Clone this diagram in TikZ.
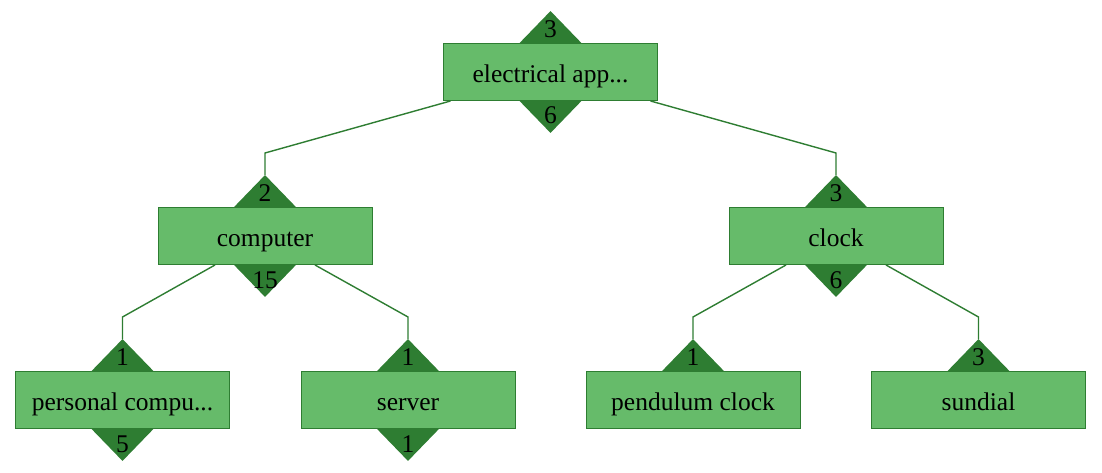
\documentclass[tikz,border=0pt]{standalone}
\usepackage{fontspec}
\setmainfont{Liberation Serif}
\usetikzlibrary{shapes.geometric,backgrounds}
\definecolor{boxfill}{HTML}{66BB6A}
\definecolor{boxline}{HTML}{2E7D32}
\definecolor{diafill}{HTML}{2E7D32}
\begin{document}
\begin{tikzpicture}[x=1pt,y=-1pt,
  box/.style={draw=boxline, fill=boxfill, line width=1pt, minimum width=214pt, minimum height=57pt, inner sep=0pt, text height=21pt, text depth=0pt, font=\fontsize{25.5}{30}\selectfont},
  num/.style={inner sep=0pt, anchor=base, font=\fontsize{25.5}{30}\selectfont},
  dia/.style={diamond, fill=diafill, minimum width=62pt, minimum height=64pt, inner sep=0pt},
  link/.style={draw=boxline, line width=1.4pt}]
\useasboundingbox (0,0) rectangle (1102,473);
% boxes
\node[box] (elec) at (550.5,72) {electrical app...};
\node[box] (comp) at (265,236) {computer};
\node[box] (clock) at (836,236) {clock};
\node[box] (pc) at (122.5,400) {personal compu...};
\node[box] (serv) at (408,400) {server};
\node[box] (pend) at (693,400) {pendulum clock};
\node[box] (sun) at (978.5,400) {sundial};
\begin{pgfonlayer}{background}
% connectors
\draw[link] ([xshift=-100pt]elec.south) -- ([yshift=54pt]comp.north) -- ([yshift=32pt]comp.north);
\draw[link] ([xshift=100pt]elec.south) -- ([yshift=54pt]clock.north) -- ([yshift=32pt]clock.north);
\draw[link] ([xshift=-50pt]comp.south) -- ([yshift=54pt]pc.north) -- ([yshift=32pt]pc.north);
\draw[link] ([xshift=50pt]comp.south) -- ([yshift=54pt]serv.north) -- ([yshift=32pt]serv.north);
\draw[link] ([xshift=-50pt]clock.south) -- ([yshift=54pt]pend.north) -- ([yshift=32pt]pend.north);
\draw[link] ([xshift=50pt]clock.south) -- ([yshift=54pt]sun.north) -- ([yshift=32pt]sun.north);
% diamonds
\node[dia] (elec-td) at (elec.north) {};
\node[dia] (elec-bd) at (elec.south) {};
\node[dia] (comp-td) at (comp.north) {};
\node[dia] (comp-bd) at (comp.south) {};
\node[dia] (clock-td) at (clock.north) {};
\node[dia] (clock-bd) at (clock.south) {};
\node[dia] (pc-td) at (pc.north) {};
\node[dia] (pc-bd) at (pc.south) {};
\node[dia] (serv-td) at (serv.north) {};
\node[dia] (serv-bd) at (serv.south) {};
\node[dia] (pend-td) at (pend.north) {};
\node[dia] (sun-td) at (sun.north) {};
\end{pgfonlayer}
% numbers
\node[num] (elec-tn) at ([yshift=5.5pt]elec.north) {3};
\node[num] (elec-bn) at ([yshift=-23pt]elec.south) {6};
\node[num] (comp-tn) at ([yshift=5.5pt]comp.north) {2};
\node[num] (comp-bn) at ([yshift=-23pt]comp.south) {15};
\node[num] (clock-tn) at ([yshift=5.5pt]clock.north) {3};
\node[num] (clock-bn) at ([yshift=-23pt]clock.south) {6};
\node[num] (pc-tn) at ([yshift=5.5pt]pc.north) {1};
\node[num] (pc-bn) at ([yshift=-23pt]pc.south) {5};
\node[num] (serv-tn) at ([yshift=5.5pt]serv.north) {1};
\node[num] (serv-bn) at ([yshift=-23pt]serv.south) {1};
\node[num] (pend-tn) at ([yshift=5.5pt]pend.north) {1};
\node[num] (sun-tn) at ([yshift=5.5pt]sun.north) {3};
\end{tikzpicture}
\end{document}
